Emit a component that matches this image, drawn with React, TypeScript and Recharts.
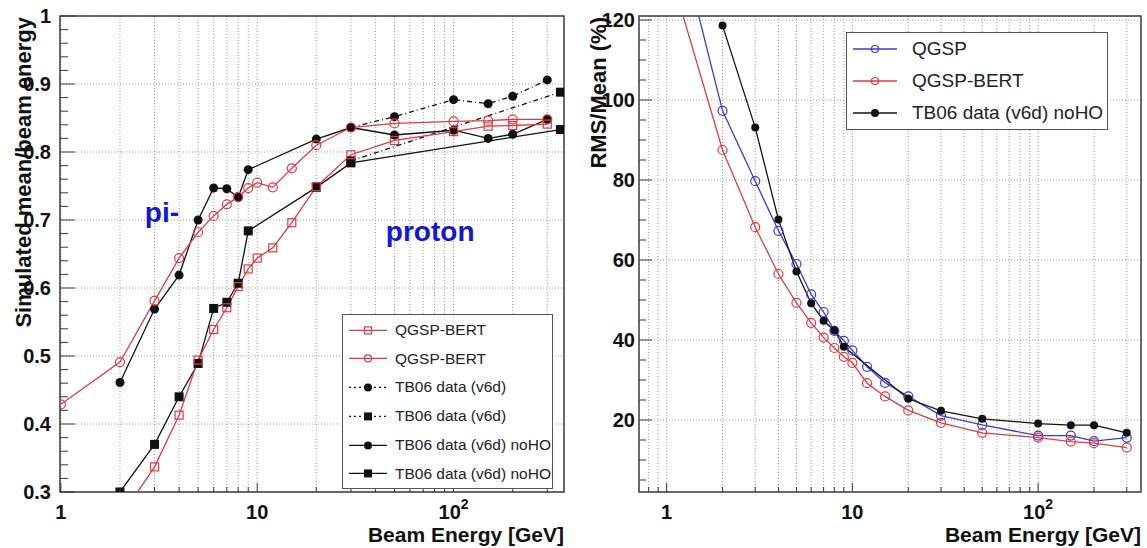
import React from 'react'
import { LineChart, Line, XAxis, YAxis, CartesianGrid, ReferenceArea, ReferenceDot, Legend } from 'recharts'

const FONT = '"Liberation Sans", Arial, Helvetica, sans-serif'
const RED = '#e23a40'
const BLUE = '#3b3bd4'
const BLACK = '#111111'
const FRAME = '#3a3a3a'
const GRID = '#9a9a9a'
const TEXT_BLUE = '#1515d8'
const DASHDOT = '5 3 1 3'

// ---- left panel: simulated mean / beam energy ----
const piEnergy = [1, 2, 3, 4, 5, 6, 7, 8, 9, 10, 12, 15, 20, 30, 50, 100, 150, 200, 300]
const piBert = [0.429, 0.491, 0.581, 0.644, 0.682, 0.706, 0.723, 0.734, 0.747, 0.755, 0.748, 0.776, 0.81, 0.836, 0.842, 0.845, 0.846, 0.848, 0.848]

const piDataEnergy = [2, 3, 4, 5, 6, 7, 8, 9, 20, 30, 50, 100, 150, 200, 300]
const piDataNoHO = [0.461, 0.569, 0.619, 0.7, 0.747, 0.746, 0.733, 0.774, 0.819, 0.836, 0.825, 0.832, 0.82, 0.826, 0.848]
const piDataHOEnergy = [30, 50, 100, 150, 200, 300]
const piDataHO = [0.836, 0.852, 0.877, 0.871, 0.882, 0.906]

const protonEnergy = [2, 3, 4, 5, 6, 7, 8, 9, 10, 12, 15, 20, 30, 50, 100, 150, 200, 300]
const protonBert = [0.262, 0.337, 0.413, 0.494, 0.539, 0.571, 0.602, 0.628, 0.644, 0.659, 0.696, 0.749, 0.796, 0.817, 0.83, 0.838, 0.839, 0.841]
const protonDataEnergy = [2, 3, 4, 5, 6, 7, 8, 9, 20, 30, 350]
const protonDataNoHO = [0.3, 0.37, 0.44, 0.489, 0.57, 0.579, 0.607, 0.684, 0.748, 0.784, 0.833]
const protonDataHOEnergy = [30, 350]
const protonDataHO = [0.787, 0.888]

// ---- right panel: RMS/Mean ----
const resEnergy = [1, 2, 3, 4, 5, 6, 7, 8, 9, 10, 12, 15, 20, 30, 50, 100, 150, 200, 300]
const resQGSP = [153, 97.3, 79.7, 67.3, 59.0, 51.4, 47.0, 42.3, 39.8, 37.4, 33.3, 29.3, 25.9, 21.1, 18.8, 16.1, 16.1, 14.7, 15.6]
const resBert = [135, 87.5, 68.2, 56.5, 49.3, 44.3, 40.6, 38.0, 35.8, 34.3, 29.2, 25.9, 22.4, 19.3, 16.8, 15.6, 14.6, 14.2, 13.1]
const resDataEnergy = [2, 3, 4, 5, 6, 7, 8, 9, 20, 30, 50, 100, 150, 200, 300]
const resDataNoHO = [118.6, 93.1, 70.1, 57.1, 49.2, 44.8, 42.4, 38.3, 25.3, 22.3, 20.3, 19.1, 18.7, 18.7, 16.8]

// ---- axes ----
const xMajor = [1, 10, 100]
const xMajorLabels = ['1', '10', '10^2']
const leftXTicks = [1, 2, 3, 4, 5, 6, 7, 8, 9, 10, 20, 30, 40, 50, 60, 70, 80, 90, 100, 200, 300]
const rightXTicks = [0.8, 0.9, 1, 2, 3, 4, 5, 6, 7, 8, 9, 10, 20, 30, 40, 50, 60, 70, 80, 90, 100, 200, 300]
const leftYMajor = [0.3, 0.4, 0.5, 0.6, 0.7, 0.8, 0.9, 1]
const leftYLabels = ['0.3', '0.4', '0.5', '0.6', '0.7', '0.8', '0.9', '1']
const rightYMajor = [20, 40, 60, 80, 100, 120]
const rightYLabels = ['20', '40', '60', '80', '100', '120']

const leftXDomain = [0.99, 365]
const leftYDomain = [0.3, 1]
const rightXDomain = [0.71, 358]
const rightYDomain = [2, 121]

type MarkerKind = 'openCircle' | 'openSquare' | 'dot' | 'square'
type Series = { name: string; e: number[]; v: number[]; color: string; marker: MarkerKind; size: number; dash?: string }

const leftSeries: Series[] = [
  { name: 'QGSP-BERT', e: protonEnergy, v: protonBert, color: RED, marker: 'openSquare', size: 4 },
  { name: 'QGSP-BERT', e: piEnergy, v: piBert, color: RED, marker: 'openCircle', size: 4.5 },
  { name: 'TB06 data (v6d)', e: piDataHOEnergy, v: piDataHO, color: BLACK, marker: 'dot', size: 4.5, dash: DASHDOT },
  { name: 'TB06 data (v6d)', e: protonDataHOEnergy, v: protonDataHO, color: BLACK, marker: 'square', size: 4.5, dash: DASHDOT },
  { name: 'TB06 data (v6d) noHO', e: piDataEnergy, v: piDataNoHO, color: BLACK, marker: 'dot', size: 4.5 },
  { name: 'TB06 data (v6d) noHO', e: protonDataEnergy, v: protonDataNoHO, color: BLACK, marker: 'square', size: 4.5 },
]
// drawing order: data below, simulation on top
const leftDrawOrder = [2, 3, 4, 5, 0, 1]

const rightSeries: Series[] = [
  { name: 'QGSP', e: resEnergy, v: resQGSP, color: BLUE, marker: 'openCircle', size: 4.5 },
  { name: 'QGSP-BERT', e: resEnergy, v: resBert, color: RED, marker: 'openCircle', size: 4.5 },
  { name: 'TB06 data (v6d) noHO', e: resDataEnergy, v: resDataNoHO, color: BLACK, marker: 'dot', size: 4 },
]

const pts = (e: number[], v: number[]) => e.map((x, i) => ({ e: x, v: v[i] }))

function subTicks(majors: number[], parts: number, lo: number, hi: number) {
  const step = (majors[1] - majors[0]) / parts
  const out: number[] = []
  for (let v = majors[0]; v >= lo - 1e-9; v -= step) out.push(+v.toFixed(4))
  for (let v = majors[0] + step; v <= hi + 1e-9; v += step) out.push(+v.toFixed(4))
  return out.sort((a, b) => a - b)
}

function Marker({ kind, cx, cy, color, size }: { kind: MarkerKind; cx: number; cy: number; color: string; size: number }) {
  if (kind === 'openCircle') return <circle cx={cx} cy={cy} r={size} fill="none" stroke={color} strokeWidth={1.2} />
  if (kind === 'openSquare')
    return <rect x={cx - size} y={cy - size} width={size * 2} height={size * 2} fill="none" stroke={color} strokeWidth={1.2} />
  if (kind === 'dot') return <circle cx={cx} cy={cy} r={size} fill={color} />
  return <rect x={cx - size} y={cy - size} width={size * 2} height={size * 2} fill={color} />
}

function seriesLine(s: Series, key: number) {
  return (
    <Line
      key={key}
      data={pts(s.e, s.v)}
      dataKey="v"
      type="linear"
      stroke={s.color}
      strokeWidth={1.3}
      strokeDasharray={s.dash}
      dot={(p: any) =>
        p.cx == null ? <g key={`${key}-${p.index}`} /> : (
          <Marker key={`${key}-${p.index}`} kind={s.marker} cx={p.cx} cy={p.cy} color={s.color} size={s.size} />
        )
      }
      activeDot={false}
      isAnimationActive={false}
    />
  )
}

function xTick(p: any) {
  const v = p.payload.value
  const i = xMajor.indexOf(v)
  const lab = i >= 0 ? xMajorLabels[i].split('^') : null
  return (
    <g>
      <line x1={p.x} x2={p.x} y1={p.y} y2={p.y - (i >= 0 ? 9 : 5)} stroke={FRAME} strokeWidth={1} />
      {lab && (
        <text x={p.x} y={p.y + 27} textAnchor="middle" fontFamily={FONT} fontWeight="bold" fontSize={20} fill={BLACK}>
          {lab[0]}
          {lab[1] && (
            <tspan dy={-10} fontSize={14}>
              {lab[1]}
            </tspan>
          )}
        </text>
      )}
    </g>
  )
}

function yTick(majors: number[], labels: string[], majorLen: number, minorLen: number, gap: number) {
  return (p: any) => {
    const v = p.payload.value
    const i = majors.findIndex((m) => Math.abs(m - v) < 1e-6)
    return (
      <g>
        <line x1={p.x} x2={p.x + (i >= 0 ? majorLen : minorLen)} y1={p.y} y2={p.y} stroke={FRAME} strokeWidth={1} />
        {i >= 0 && (
          <text x={p.x - gap} y={p.y} dy="0.36em" textAnchor="end" fontFamily={FONT} fontWeight="bold" fontSize={20} fill={BLACK}>
            {labels[i]}
          </text>
        )}
      </g>
    )
  }
}

const xTitle = (props: any) => {
  const vb = props.viewBox
  return (
    <text x={vb.x + vb.width} y={vb.y + 50} textAnchor="end" fontFamily={FONT} fontWeight="bold" fontSize={21} fill={BLACK}>
      Beam Energy [GeV]
    </text>
  )
}

const yTitle = (text: string, dx: number) => (props: any) => {
  const vb = props.viewBox
  const x = vb.x + dx
  const y = vb.y + 1
  return (
    <text
      x={x}
      y={y}
      transform={`rotate(-90 ${x} ${y})`}
      textAnchor="end"
      dominantBaseline="central"
      fontFamily={FONT}
      fontWeight="bold"
      fontSize={22}
      fill={BLACK}
    >
      {text}
    </text>
  )
}

function LegendBox({ entries, width, rowH, padTop, fontSize, symW, textX }: { entries: Series[]; width: number; rowH: number; padTop: number; fontSize: number; symW: number; textX: number }) {
  return (
    <div
      style={{
        width,
        boxSizing: 'border-box',
        border: '1.5px solid #555',
        background: '#fff',
        paddingTop: padTop,
        fontFamily: FONT,
        fontSize,
        color: '#222',
      }}
    >
      {entries.map((s, i) => (
        <div key={i} style={{ position: 'relative', height: rowH, display: 'flex', alignItems: 'center' }}>
          <svg width={symW} height={rowH} style={{ position: 'absolute', left: 4 }}>
            <line x1={2} x2={symW - 2} y1={rowH / 2} y2={rowH / 2} stroke={s.color} strokeWidth={1.3} strokeDasharray={s.dash ? '2 3' : undefined} />
            <Marker kind={s.marker} cx={symW / 2} cy={rowH / 2} color={s.color} size={s.marker === 'openCircle' || s.marker === 'openSquare' ? 3.5 : 4} />
          </svg>
          <span style={{ position: 'absolute', left: textX, whiteSpace: 'nowrap' }}>{s.name}</span>
        </div>
      ))}
    </div>
  )
}

function ResponsePanel() {
  return (
    <LineChart width={580} height={548} margin={{ top: 16, right: 16, bottom: 0, left: 0 }}>
      <CartesianGrid stroke={GRID} strokeDasharray="1 2" verticalValues={leftXTicks} horizontalValues={leftYMajor} />
      <XAxis
        dataKey="e"
        type="number"
        scale="log"
        domain={leftXDomain}
        allowDataOverflow
        ticks={leftXTicks}
        interval={0}
        height={56}
        tickSize={0}
        tickMargin={0}
        tickLine={false}
        axisLine={false}
        tick={xTick}
        label={xTitle}
      />
      <YAxis
        type="number"
        domain={leftYDomain}
        allowDataOverflow
        ticks={subTicks(leftYMajor, 5, 0.3, 1)}
        interval={0}
        width={60}
        tickSize={0}
        tickMargin={0}
        tickLine={false}
        axisLine={false}
        tick={yTick(leftYMajor, leftYLabels, 15, 8, 9)}
        label={yTitle('Simulated mean/beam energy', 23)}
      />
      {leftDrawOrder.map((i) => seriesLine(leftSeries[i], i))}
      <ReferenceDot x={3.27} y={0.712} r={0} fill="none" stroke="none"
        label={{ value: 'pi-', position: 'center', fill: TEXT_BLUE, fontSize: 28, fontWeight: 'bold', fontFamily: FONT }} />
      <ReferenceDot x={76} y={0.684} r={0} fill="none" stroke="none"
        label={{ value: 'proton', position: 'center', fill: TEXT_BLUE, fontSize: 28, fontWeight: 'bold', fontFamily: FONT }} />
      <ReferenceArea x1={leftXDomain[0]} x2={leftXDomain[1]} y1={leftYDomain[0]} y2={leftYDomain[1]} fill="none" stroke={FRAME} strokeWidth={1.5} ifOverflow="visible" />
      <Legend
        layout="vertical"
        align="center"
        verticalAlign="middle"
        wrapperStyle={{ left: 342, top: 314, width: 211 }}
        content={() => <LegendBox entries={leftSeries} width={211} rowH={28.8} padTop={0.5} fontSize={15.5} symW={42} textX={52} />}
      />
    </LineChart>
  )
}

function ResolutionPanel() {
  return (
    <LineChart width={567} height={548} margin={{ top: 16, right: 6, bottom: 0, left: 0 }}>
      <CartesianGrid stroke={GRID} strokeDasharray="1 2" verticalValues={rightXTicks} horizontalValues={rightYMajor} />
      <XAxis
        dataKey="e"
        type="number"
        scale="log"
        domain={rightXDomain}
        allowDataOverflow
        ticks={rightXTicks}
        interval={0}
        height={56}
        tickSize={0}
        tickMargin={0}
        tickLine={false}
        axisLine={false}
        tick={xTick}
        label={xTitle}
      />
      <YAxis
        type="number"
        domain={rightYDomain}
        allowDataOverflow
        ticks={subTicks(rightYMajor, 4, 2, 121)}
        interval={0}
        width={59}
        tickSize={0}
        tickMargin={0}
        tickLine={false}
        axisLine={false}
        tick={yTick(rightYMajor, rightYLabels, 13, 7, 4)}
        label={yTitle('RMS/Mean (%)', 18)}
      />
      {rightSeries.map((s, i) => seriesLine(s, i))}
      <ReferenceArea x1={rightXDomain[0]} x2={rightXDomain[1]} y1={rightYDomain[0]} y2={rightYDomain[1]} fill="none" stroke={FRAME} strokeWidth={1.5} ifOverflow="visible" />
      <Legend
        layout="vertical"
        align="center"
        verticalAlign="middle"
        wrapperStyle={{ left: 266, top: 32, width: 262 }}
        content={() => <LegendBox entries={rightSeries} width={262} rowH={32} padTop={0} fontSize={19} symW={48} textX={65} />}
      />
    </LineChart>
  )
}

export default function App() {
  return (
    <div style={{ position: 'absolute', left: 0, top: 0, width: 1147, height: 548, background: '#fff', fontFamily: FONT }}>
      <div style={{ position: 'absolute', left: 0, top: 0 }}>
        <ResponsePanel />
      </div>
      <div style={{ position: 'absolute', left: 580, top: 0 }}>
        <ResolutionPanel />
      </div>
    </div>
  )
}
